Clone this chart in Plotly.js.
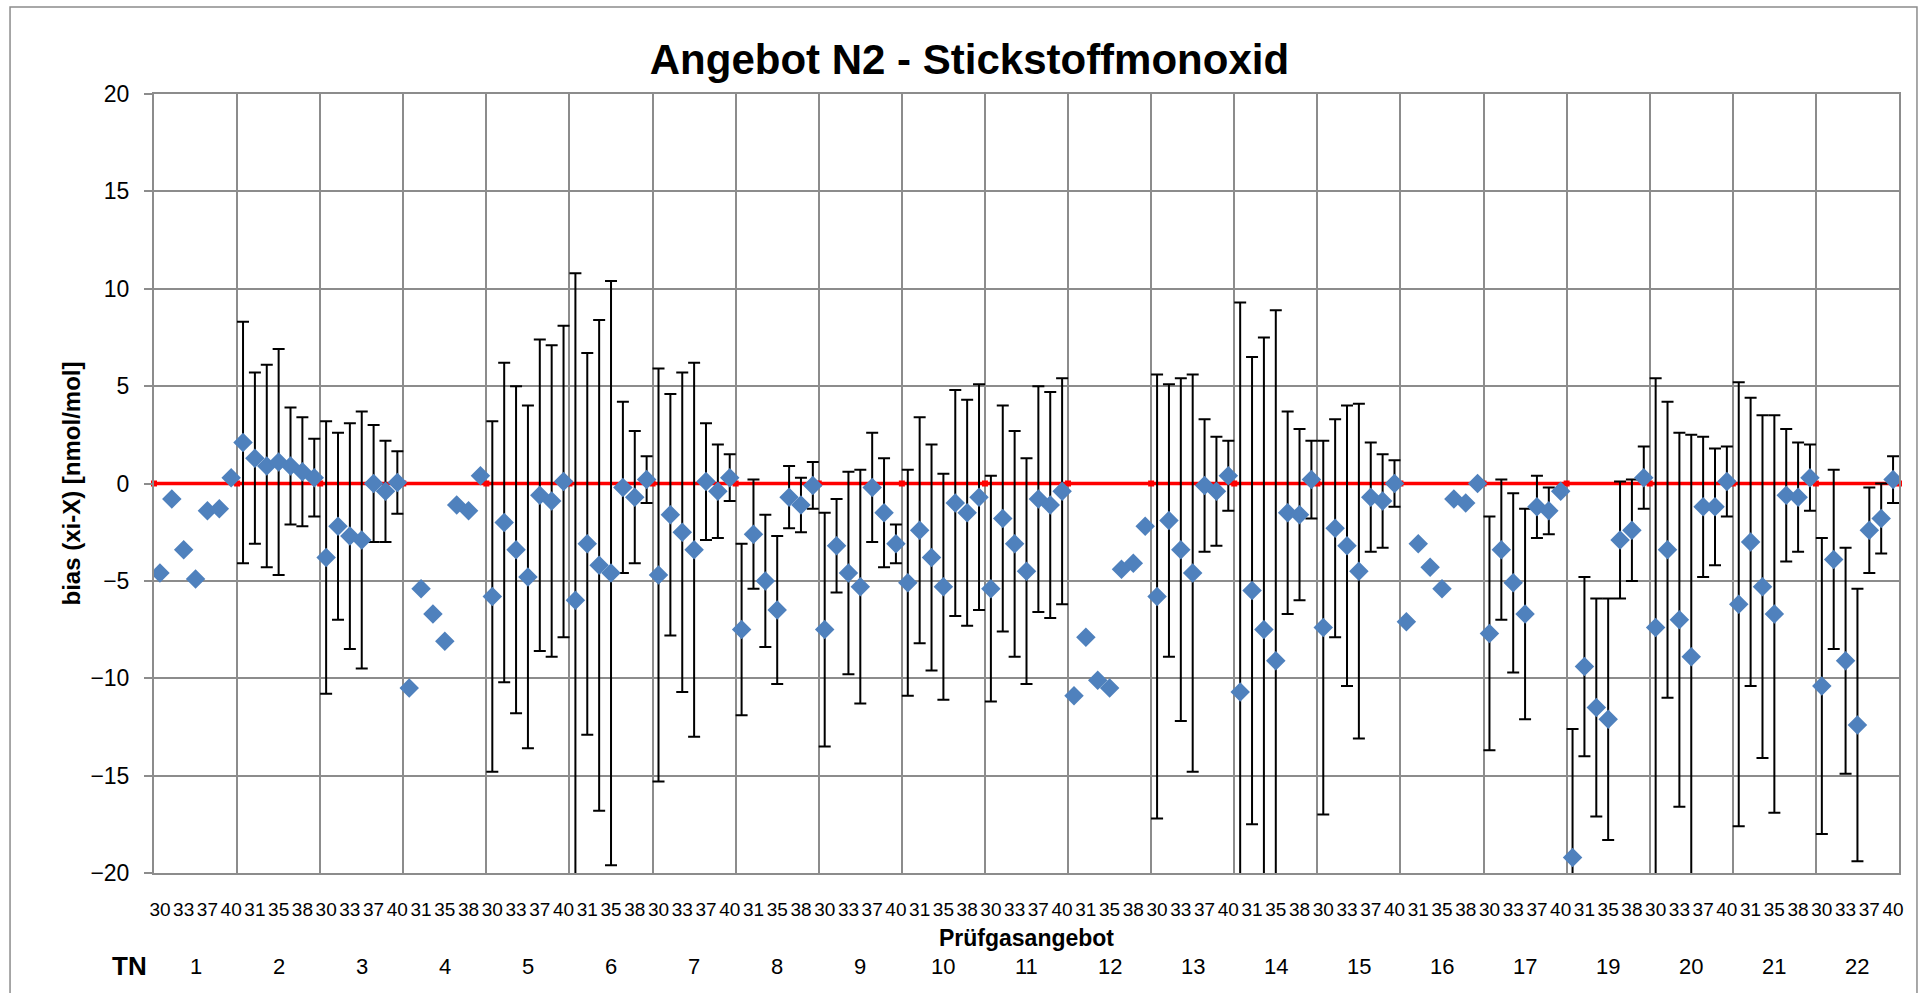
<!DOCTYPE html>
<html>
<head>
<meta charset="utf-8">
<script src="https://cdn.plot.ly/plotly-3.0.1.min.js"></script>
<style>
  html, body { margin: 0; padding: 0; background: #ffffff; }
  #chart { width: 1930px; height: 993px; }
</style>
</head>
<body>
<div id="chart"></div>
<script>
// ---- data ----
const gasLabels = ['30', '31', '33', '35', '37', '38', '40'];   // Prüfgasangebot per TN
const tnLabels = ['1','2','3','4','5','6','7','8','9','10','11','12','13','14','15','16','17','19','20','21','22'];

// bias (xi-X) [nmol/mol], 7 values per TN in gasLabels order
const bias = [
  -4.6, -0.8, -3.4, -4.9, -1.4, -1.3,  0.3,   // TN 1
   2.1,  1.3,  0.9,  1.1,  0.9,  0.6,  0.3,   // TN 2
  -3.8, -2.2, -2.7, -2.9,  0.0, -0.4,  0.05,  // TN 3
 -10.5, -5.4, -6.7, -8.1, -1.1, -1.4,  0.4,   // TN 4
  -5.8, -2.0, -3.4, -4.8, -0.6, -0.9,  0.1,   // TN 5
  -6.0, -3.1, -4.2, -4.6, -0.2, -0.7,  0.2,   // TN 6
  -4.7, -1.6, -2.5, -3.4,  0.1, -0.4,  0.3,   // TN 7
  -7.5, -2.6, -5.0, -6.5, -0.7, -1.1, -0.1,   // TN 8
  -7.5, -3.2, -4.6, -5.3, -0.2, -1.5, -3.1,   // TN 9
  -5.1, -2.4, -3.8, -5.3, -1.0, -1.5, -0.7,   // TN 10
  -5.4, -1.8, -3.1, -4.5, -0.8, -1.1, -0.4,   // TN 11
 -10.9, -7.9,-10.1,-10.5, -4.4, -4.1, -2.2,   // TN 12
  -5.8, -1.9, -3.4, -4.6, -0.1, -0.4,  0.4,   // TN 13
 -10.7, -5.5, -7.5, -9.1, -1.5, -1.6,  0.2,   // TN 14
  -7.4, -2.3, -3.2, -4.5, -0.7, -0.9,  0.0,   // TN 15
  -7.1, -3.1, -4.3, -5.4, -0.8, -1.0,  0.0,   // TN 16
  -7.7, -3.4, -5.1, -6.7, -1.2, -1.4, -0.4,   // TN 17
 -19.2, -9.4,-11.5,-12.1, -2.9, -2.4,  0.3,   // TN 19
  -7.4, -3.4, -7.0, -8.9, -1.2, -1.2,  0.1,   // TN 20
  -6.2, -3.0, -5.3, -6.7, -0.6, -0.7,  0.3,   // TN 21
 -10.4, -3.9, -9.1,-12.4, -2.4, -1.8,  0.2    // TN 22
];

// expanded uncertainty (symmetric), null = no error bar
const uncertainty = [
  null, null, null, null, null, null, null,   // TN 1
   6.2,  4.4,  5.2,  5.8,  3.0,  2.8,  2.0,   // TN 2
   7.0,  4.8,  5.8,  6.6,  3.0,  2.6,  1.6,   // TN 3
  null, null, null, null, null, null, null,   // TN 4
   9.0,  8.2,  8.4,  8.8,  8.0,  8.0,  8.0,   // TN 5
  16.8,  9.8, 12.6, 15.0,  4.4,  3.4,  1.2,   // TN 6
  10.6,  6.2,  8.2,  9.6,  3.0,  2.4,  1.2,   // TN 7
   4.4,  2.8,  3.4,  3.8,  1.6,  1.4,  1.2,   // TN 8
   6.0,  2.4,  5.2,  6.0,  2.8,  2.8,  1.0,   // TN 9
   5.8,  5.8,  5.8,  5.8,  5.8,  5.8,  5.8,   // TN 10
   5.8,  5.8,  5.8,  5.8,  5.8,  5.8,  5.8,   // TN 11
  null, null, null, null, null, null, null,   // TN 12
  11.4,  7.0,  8.8, 10.2,  3.4,  2.8,  1.8,   // TN 13
  20.0, 12.0, 15.0, 18.0,  5.2,  4.4,  2.0,   // TN 14
   9.6,  5.6,  7.2,  8.6,  2.8,  2.4,  1.2,   // TN 15
  null, null, null, null, null, null, null,   // TN 16
   6.0,  3.6,  4.6,  5.4,  1.6,  1.2, null,   // TN 17
   6.6,  4.6,  5.6,  6.2,  3.0,  2.6,  1.6,   // TN 19
  12.8,  7.6,  9.6, 11.4,  3.6,  3.0,  1.8,   // TN 20
  11.4,  7.4,  8.8, 10.2,  3.4,  2.8,  1.7,   // TN 21
   7.6,  4.6,  5.8,  7.0,  2.2,  1.8,  1.2    // TN 22
];

const referenceValue = 0;   // red target line

// ---- build traces ----
const nPer = gasLabels.length;
const nCat = tnLabels.length * nPer;
const xIdx = bias.map((_, i) => i);
const tickVals = xIdx.filter(i => i % 2 === 0);
const tickText = tickVals.map(i => gasLabels[i % nPer]);
const boundaries = [];
for (let k = 0; k <= tnLabels.length; k++) boundaries.push(k * nPer - 0.5);

const GRID = '#8C8C8C';
const NUMFONT = 'Liberation Sans, Arial, sans-serif';
const BOLDFONT = 'Liberation Sans Narrow, Liberation Sans, Arial, sans-serif';

const traces = [
  {
    type: 'scatter', mode: 'lines+markers',
    x: boundaries, y: boundaries.map(() => referenceValue),
    line: { color: '#FF0000', width: 3.5 },
    marker: { symbol: 'square', size: 6, color: '#FF0000' },
    cliponaxis: false, hoverinfo: 'skip', showlegend: false
  },
  {
    type: 'scatter', mode: 'markers',
    x: xIdx, y: bias,
    marker: { symbol: 'diamond', size: 15, color: '#4F81BD', line: { width: 0 } },
    error_y: {
      type: 'data', symmetric: true, visible: true,
      array: uncertainty.map(v => (v === null ? NaN : v)),
      color: '#000000', thickness: 2, width: 6
    },
    showlegend: false
  }
];

const annotations = [
  { text: '<b>TN</b>', xref: 'paper', yref: 'paper', x: -0.0138, y: -0.1194,
    xanchor: 'center', yanchor: 'middle', showarrow: false,
    font: { family: BOLDFONT, size: 26, color: '#000' } }
];
tnLabels.forEach((t, k) => {
  annotations.push({
    text: t, xref: 'x', yref: 'paper', x: k * nPer + (nPer - 1) / 2, y: -0.1194,
    xanchor: 'center', yanchor: 'middle', showarrow: false,
    font: { family: NUMFONT, size: 22, color: '#000' }
  });
});

const layout = {
  width: 1930, height: 993,
  paper_bgcolor: '#ffffff', plot_bgcolor: '#ffffff',
  margin: { l: 154, r: 31, t: 94, b: 120, pad: 0 },
  showlegend: false,
  title: {
    text: 'Angebot N2 - Stickstoffmonoxid',
    font: { family: BOLDFONT, size: 42, weight: 'bold', color: '#000' },
    x: 0.5023, xref: 'container', xanchor: 'center',
    y: 0.94, yref: 'container', yanchor: 'middle'
  },
  xaxis: {
    range: [-0.5, nCat - 0.5],
    tickmode: 'array', tickvals: tickVals, ticktext: tickText,
    tickangle: 0, ticks: '', ticklabelstandoff: 18,
    tickfont: { family: NUMFONT, size: 19, color: '#000' },
    showgrid: false, zeroline: false,
    showline: true, linecolor: GRID, linewidth: 2, mirror: true,
    minor: { tickmode: 'linear', tick0: -0.5, dtick: nPer, showgrid: true,
             gridcolor: GRID, gridwidth: 2, ticks: '' },
    title: { text: 'Prüfgasangebot', standoff: 11,
             font: { family: BOLDFONT, size: 23, weight: 'bold', color: '#000' } }
  },
  yaxis: {
    range: [-20, 20], tickmode: 'linear', tick0: 0, dtick: 5,
    ticks: 'outside', ticklen: 8, tickwidth: 2, tickcolor: GRID,
    ticklabelstandoff: 10,
    tickfont: { family: NUMFONT, size: 23, color: '#000' },
    showgrid: true, gridcolor: GRID, gridwidth: 2, zeroline: false,
    showline: true, linecolor: GRID, linewidth: 2, mirror: true,
    title: { text: 'bias (xi-X) [nmol/mol]', standoff: 3,
             font: { family: BOLDFONT, size: 24, weight: 'bold', color: '#000' } }
  },
  shapes: [
    { type: 'rect', xref: 'paper', yref: 'paper',
      x0: -0.0825, x1: 1.0103, y0: -0.165, y1: 1.1117,
      line: { color: GRID, width: 1.5 }, fillcolor: 'rgba(0,0,0,0)', layer: 'below' }
  ],
  annotations: annotations
};

Plotly.newPlot('chart', traces, layout, { displayModeBar: false });
</script>
</body>
</html>
